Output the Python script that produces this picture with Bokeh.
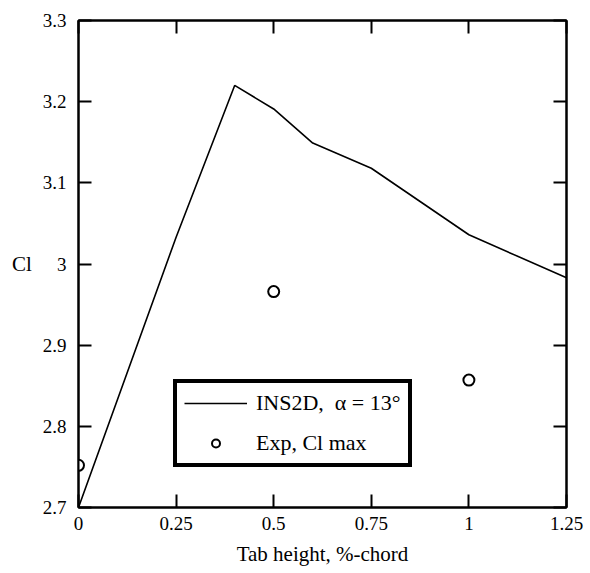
from bokeh.plotting import figure
from bokeh.models import LinearAxis, FixedTicker, Range1d, Legend, LegendItem
from bokeh.embed import file_html
from bokeh.resources import INLINE

# --- data ---
tab_height = [0.0, 0.25, 0.4, 0.5, 0.6, 0.75, 1.0, 1.25]
cl_ins2d = [2.700, 3.033, 3.220, 3.191, 3.149, 3.118, 3.036, 2.983]

exp_height = [0.0, 0.5, 1.0]
exp_clmax = [2.752, 2.966, 2.857]

x_ticks = [0.0, 0.25, 0.5, 0.75, 1.0, 1.25]
x_tick_labels = ["0", "0.25", "0.5", "0.75", "1", "1.25"]
y_ticks = [2.7, 2.8, 2.9, 3.0, 3.1, 3.2, 3.3]
y_tick_labels = ["2.7", "2.8", "2.9", "3", "3.1", "3.2", "3.3"]

FONT = "Liberation Serif"
FS = "19px"
TITLE_FS = "21px"

p = figure(width=590, height=573, output_backend="svg", toolbar_location=None,
           x_range=Range1d(0, 1.25), y_range=Range1d(2.7, 3.3),
           x_axis_location=None, y_axis_location=None,
           min_border_left=78, min_border_right=24, min_border_top=20, min_border_bottom=66,
           background_fill_color="white", border_fill_color="white")
p.grid.visible = False
p.outline_line_color = "black"
p.outline_line_width = 2


def style_axis(ax, ticks, labels, show_labels):
    ax.ticker = FixedTicker(ticks=ticks)
    ax.axis_line_color = "black"
    ax.axis_line_width = 2
    ax.major_tick_line_color = "black"
    ax.major_tick_line_width = 2
    ax.major_tick_in = 13
    ax.major_tick_out = 0
    ax.minor_tick_line_color = None
    ax.major_label_text_font = FONT
    ax.major_label_text_font_size = FS
    ax.major_label_text_color = "black"
    ax.axis_label_text_font = FONT
    ax.axis_label_text_font_size = TITLE_FS
    ax.axis_label_text_font_style = "normal"
    ax.axis_label_text_color = "black"
    if show_labels:
        ax.major_label_overrides = {t: l for t, l in zip(ticks, labels)}
    else:
        ax.major_label_overrides = {t: "" for t in ticks}
        ax.major_label_standoff = 0


xb = LinearAxis(axis_label="Tab height, %-chord")
style_axis(xb, x_ticks, x_tick_labels, True)
xb.major_label_standoff = 9
xb.axis_label_standoff = 9
p.add_layout(xb, "below")

xt = LinearAxis()
style_axis(xt, x_ticks, x_tick_labels, False)
p.add_layout(xt, "above")

yl = LinearAxis(axis_label="Cl")
style_axis(yl, y_ticks, y_tick_labels, True)
yl.major_label_standoff = 12
yl.axis_label_standoff = 8
yl.axis_label_orientation = "horizontal"
p.add_layout(yl, "left")

yr = LinearAxis()
style_axis(yr, y_ticks, y_tick_labels, False)
p.add_layout(yr, "right")

line_r = p.line(tab_height, cl_ins2d, line_color="black", line_width=1.6)
pts_r = p.scatter(exp_height, exp_clmax, marker="circle", size=11,
                  fill_color="white", line_color="black", line_width=2)

legend = Legend(items=[LegendItem(label="INS2D,\u00a0 \u03b1 = 13\u00b0", renderers=[line_r]),
                       LegendItem(label="Exp, Cl max", renderers=[pts_r])],
                location=(95, 40), orientation="vertical",
                border_line_color="black", border_line_width=4, border_line_alpha=1,
                background_fill_color="white", background_fill_alpha=1,
                padding=7, spacing=14, margin=0,
                glyph_width=63, glyph_height=20, label_standoff=9,
                label_text_font=FONT, label_text_font_size="22px", label_text_color="black")
p.add_layout(legend)

open("out.html", "w").write(file_html(p, INLINE))
